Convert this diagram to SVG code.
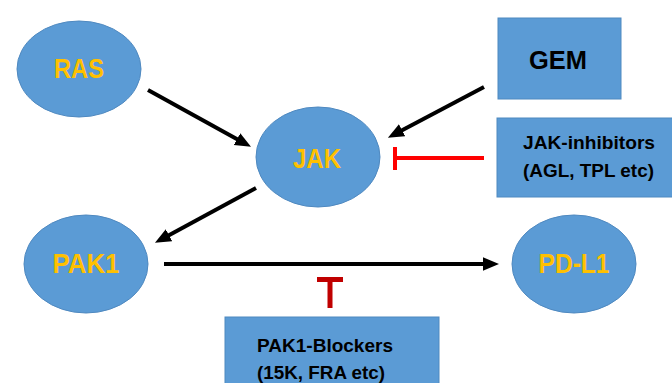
<svg xmlns="http://www.w3.org/2000/svg" width="672" height="383" viewBox="0 0 672 383">
<defs>
<style>
.n{fill:#5B9BD5;stroke:#4F89C0;stroke-width:1}
.y{font-family:"Liberation Sans",Arial,sans-serif;font-weight:bold;font-size:28px;fill:#FFC000;text-anchor:middle}
.b{font-family:"Liberation Sans",Arial,sans-serif;font-weight:bold;font-size:26px;fill:#000;text-anchor:middle}
.s{font-family:"Liberation Sans",Arial,sans-serif;font-weight:bold;font-size:18px;fill:#000}
.a{stroke:#000;stroke-width:4;fill:none;marker-end:url(#ah)}
</style>
<marker id="ah" markerWidth="4" markerHeight="4" refX="2" refY="2" orient="auto" markerUnits="strokeWidth" viewBox="0 0 4 4">
<path d="M0,0.3 L4,2 L0,3.7 Z" fill="#000"/>
</marker>
</defs>
<rect width="672" height="383" fill="#fff"/>
<g id="RAS"><ellipse class="n" cx="79" cy="69" rx="62" ry="48"/><text class="y" x="79" y="78" textLength="50" lengthAdjust="spacingAndGlyphs">RAS</text></g>
<g id="JAK"><ellipse class="n" cx="318" cy="157" rx="62" ry="50"/><text class="y" x="317" y="168" textLength="48" lengthAdjust="spacingAndGlyphs">JAK</text></g>
<g id="PAK1"><ellipse class="n" cx="86" cy="264" rx="62" ry="49"/><text class="y" x="86" y="273" textLength="67" lengthAdjust="spacingAndGlyphs">PAK1</text></g>
<g id="PDL1"><ellipse class="n" cx="574" cy="264" rx="62" ry="49"/><text class="y" x="574" y="273" textLength="71" lengthAdjust="spacingAndGlyphs">PD-L1</text></g>
<g id="GEM"><rect class="n" x="498" y="18" width="123" height="81"/><text class="b" x="558" y="69" textLength="58" lengthAdjust="spacingAndGlyphs">GEM</text></g>
<g id="JAKinh"><rect class="n" x="497" y="118" width="177" height="79"/><text class="s" x="523" y="149" textLength="132" lengthAdjust="spacingAndGlyphs">JAK-inhibitors</text><text class="s" x="523" y="177" textLength="131" lengthAdjust="spacingAndGlyphs">(AGL, TPL etc)</text></g>
<g id="PAK1blk"><rect class="n" x="225" y="317" width="214" height="70"/><text class="s" x="257" y="352" font-size="19" textLength="136" lengthAdjust="spacingAndGlyphs">PAK1-Blockers</text><text class="s" x="257" y="379" font-size="19" textLength="128" lengthAdjust="spacingAndGlyphs">(15K, FRA etc)</text></g>
<g id="connectors">
<line class="a" x1="148" y1="90" x2="244" y2="143"/>
<line class="a" x1="484" y1="87" x2="395" y2="134"/>
<line class="a" x1="256" y1="188" x2="162" y2="239"/>
<line class="a" x1="164" y1="264" x2="491" y2="264"/>
<path d="M484,158 H395 M395,147 V170" stroke="#FF0000" stroke-width="4" fill="none"/>
<path d="M330,308 V279.5 M317,279.5 H343" stroke="#C00000" stroke-width="5" fill="none"/>
</g>
</svg>
